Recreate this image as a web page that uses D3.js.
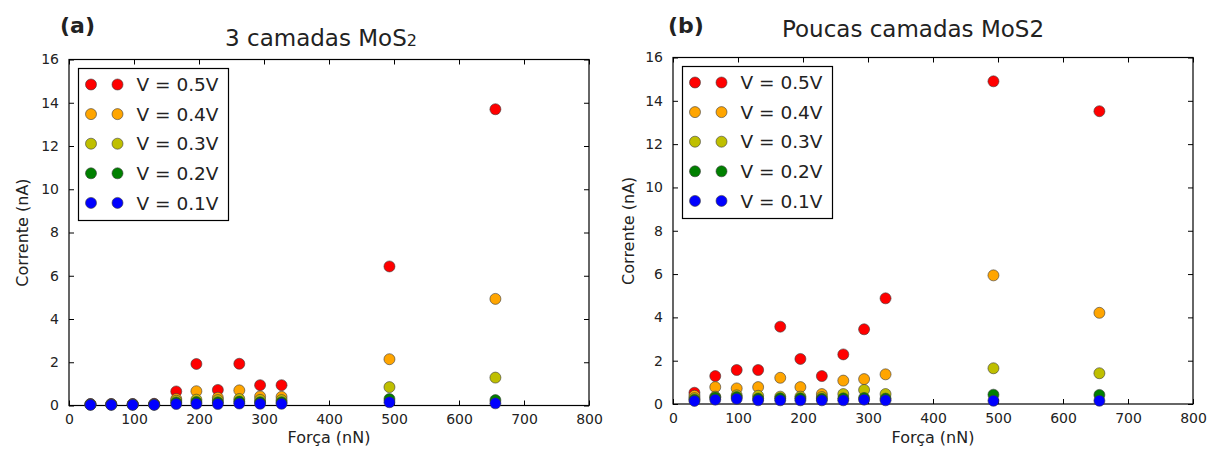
<!DOCTYPE html>
<html><head><meta charset="utf-8">
<script src="https://cdn.jsdelivr.net/npm/d3@7"></script>
<style>body{margin:0;background:#fff}svg{display:block}text{font-family:"DejaVu Sans",sans-serif;fill:#222}</style>
</head><body><svg id="c" width="1216" height="450"></svg>
<script>
const force = [33, 65, 98, 131, 165, 196, 229, 262, 294, 327, 493, 656];
const seriesNames = ["V = 0.5V", "V = 0.4V", "V = 0.3V", "V = 0.2V", "V = 0.1V"];
const seriesColors = ["#ff0000", "#ffa500", "#bfbf00", "#008000", "#0000ff"];
// Panel (a): 3 camadas MoS2
const a_05 = [0.07, 0.07, 0.07, 0.08, 0.65, 1.92, 0.72, 1.93, 0.94, 0.94, 6.43, 13.7];
const a_04 = [0.06, 0.06, 0.06, 0.06, 0.30, 0.66, 0.36, 0.70, 0.42, 0.40, 2.14, 4.93];
const a_03 = [0.05, 0.05, 0.05, 0.05, 0.22, 0.27, 0.25, 0.30, 0.26, 0.25, 0.85, 1.29];
const a_02 = [0.04, 0.04, 0.04, 0.04, 0.14, 0.16, 0.15, 0.18, 0.15, 0.15, 0.30, 0.25];
const a_01 = [0.03, 0.03, 0.03, 0.03, 0.07, 0.08, 0.07, 0.09, 0.08, 0.08, 0.15, 0.10];
// Panel (b): Poucas camadas MoS2
const b_05 = [0.52, 1.29, 1.57, 1.57, 3.57, 2.08, 1.29, 2.29, 3.45, 4.88, 14.9, 13.52];
const b_04 = [0.38, 0.78, 0.72, 0.78, 1.21, 0.78, 0.46, 1.08, 1.15, 1.37, 5.94, 4.21];
const b_03 = [0.27, 0.34, 0.40, 0.38, 0.34, 0.34, 0.32, 0.46, 0.65, 0.46, 1.65, 1.42];
const b_02 = [0.20, 0.30, 0.32, 0.25, 0.26, 0.26, 0.24, 0.26, 0.28, 0.25, 0.43, 0.42];
const b_01 = [0.14, 0.20, 0.24, 0.17, 0.17, 0.17, 0.17, 0.17, 0.20, 0.17, 0.15, 0.15];
const xTicks = [0, 100, 200, 300, 400, 500, 600, 700, 800];
const yTicks = [0, 2, 4, 6, 8, 10, 12, 14, 16];
const xLabel = "Força (nN)";
const yLabel = "Corrente (nA)";

const svg = d3.select("#c");
const R = 5.5;

function panel(o) {
  const x = d3.scaleLinear().domain([0, 800]).range([o.x0, o.x1]);
  const y = d3.scaleLinear().domain([0, 16]).range([o.y1, o.y0]);
  const g = svg.append("g");
  const tl = 5;
  const bottom = g.append("g").attr("transform", `translate(0,${o.y1})`)
    .call(d3.axisBottom(x).tickValues(xTicks).tickSizeInner(-tl).tickSizeOuter(0).tickPadding(9));
  const top = g.append("g").attr("transform", `translate(0,${o.y0})`)
    .call(d3.axisTop(x).tickValues(xTicks).tickSizeInner(-tl).tickSizeOuter(0).tickFormat(""));
  const left = g.append("g").attr("transform", `translate(${o.x0},0)`)
    .call(d3.axisLeft(y).tickValues(yTicks).tickSizeInner(-tl).tickSizeOuter(0).tickPadding(10));
  const right = g.append("g").attr("transform", `translate(${o.x1},0)`)
    .call(d3.axisRight(y).tickValues(yTicks).tickSizeInner(-tl).tickSizeOuter(0).tickFormat(""));
  [bottom, top, left, right].forEach(a => {
    a.select(".domain").remove();
    a.selectAll(".tick line").attr("stroke", "#000").attr("stroke-width", 1);
    a.selectAll(".tick text").attr("font-size", 14).attr("font-family", "DejaVu Sans").attr("fill", "#2a2a2a");
  });
  bottom.selectAll(".tick text").attr("dy", "0.68em");
  g.append("rect").attr("x", o.x0).attr("y", o.y0).attr("width", o.x1 - o.x0).attr("height", o.y1 - o.y0)
    .attr("fill", "none").attr("stroke", "#000").attr("stroke-width", 1.2);
  o.series.forEach((vals, si) => {
    g.append("g").selectAll("circle").data(vals).join("circle")
      .attr("cx", (d, i) => x(force[i])).attr("cy", d => y(d)).attr("r", R)
      .attr("fill", seriesColors[si]).attr("stroke", "#3a3a3a").attr("stroke-width", 0.6);
  });
  g.append("text").attr("x", (o.x0 + o.x1) / 2).attr("y", 443).attr("text-anchor", "middle")
    .attr("font-size", 16).text(xLabel);
  g.append("text").attr("transform", `translate(${o.ylx},${(o.y0 + o.y1) / 2}) rotate(-90)`)
    .attr("text-anchor", "middle").attr("font-size", 16).text(yLabel);
  const t = g.append("text").attr("x", o.tx).attr("y", o.ty).attr("text-anchor", "middle").attr("font-size", 23);
  t.append("tspan").text(o.title);
  if (o.sub) t.append("tspan").attr("font-size", 16).text(o.sub);
  g.append("text").attr("x", o.px).attr("y", 33).attr("font-size", 22).attr("font-weight", "bold").text(o.plabel);
  const L = o.leg;
  g.append("rect").attr("x", L.x).attr("y", L.y).attr("width", 150).attr("height", 152)
    .attr("fill", "#fff").attr("stroke", "#000").attr("stroke-width", 1.2);
  seriesNames.forEach((nm, si) => {
    const ry = L.y + 16 + si * 29.6;
    [12.5, 39].forEach(dx => g.append("circle").attr("cx", L.x + dx).attr("cy", ry).attr("r", R)
      .attr("fill", seriesColors[si]).attr("stroke", "#3a3a3a").attr("stroke-width", 0.6));
    g.append("text").attr("x", L.x + 58).attr("y", ry).attr("dy", "0.36em").attr("font-size", 18.5).text(nm);
  });
}

panel({x0: 69, x1: 589, y0: 59.5, y1: 405.5, ylx: 28, tx: 321, ty: 46, title: "3 camadas MoS", sub: "2",
  px: 60, plabel: "(a)", leg: {x: 78.5, y: 68.5}, series: [a_05, a_04, a_03, a_02, a_01]});
panel({x0: 673, x1: 1193, y0: 57.5, y1: 404, ylx: 634, tx: 913, ty: 37, title: "Poucas camadas MoS2", sub: null,
  px: 668, plabel: "(b)", leg: {x: 682.5, y: 66.5}, series: [b_05, b_04, b_03, b_02, b_01]});
</script></body></html>
